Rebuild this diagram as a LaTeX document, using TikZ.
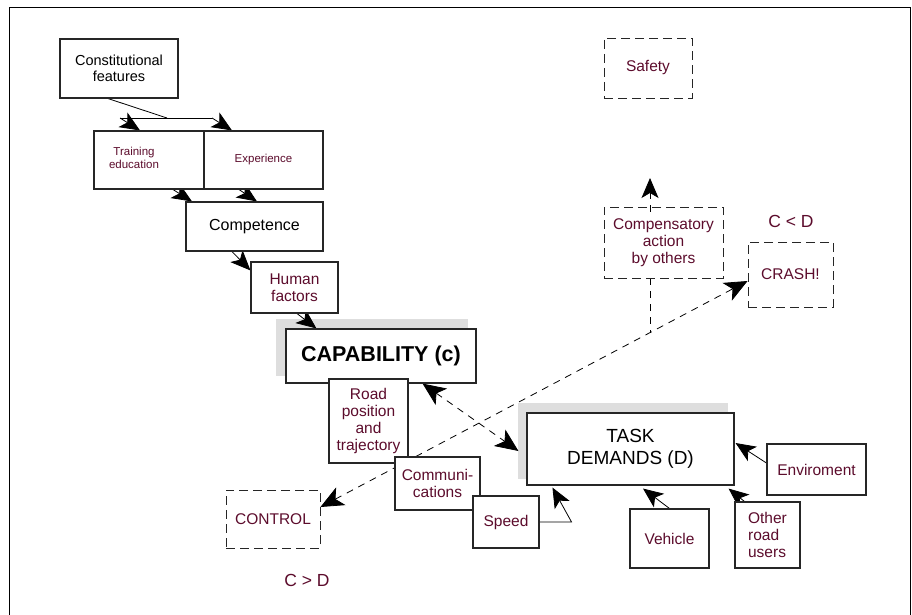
\documentclass[tikz,border=0pt]{standalone}
\usepackage{fontspec}
\setmainfont{Liberation Sans}
\usetikzlibrary{arrows.meta,backgrounds}
\definecolor{wine}{RGB}{92,12,44}
\definecolor{shadowgray}{RGB}{222,222,222}

\begin{document}
\begin{tikzpicture}[x=1pt,y=-1pt,
  box/.style={draw=black!85, line width=1.1pt, fill=white, align=center, inner sep=2pt,
    text=wine, font=\fontsize{15.5}{17}\selectfont},
  dbox/.style={box, fill=none, line width=0.9pt, dash pattern=on 9pt off 5pt},
  small/.style={font=\fontsize{11.5}{13}\selectfont},
  arr/.style={-{Stealth[length=20pt,width=17pt,inset=5pt]}, line width=0.8pt},
  bigarr/.style={{Stealth[length=23pt,width=20pt,inset=6pt]}-{Stealth[length=23pt,width=20pt,inset=6pt]}},
  dline/.style={line width=0.8pt, dash pattern=on 7pt off 6pt}]
  \useasboundingbox (0,0) rectangle (912,615);
  \draw[line width=0.8pt] (9,615) -- (9,7) -- (910,7) -- (910,615);

  % boxes
  \node[box, text=black, font=\fontsize{14.5}{16}\selectfont, minimum width=118pt, minimum height=59pt] (cf) at (119,68.5) {Constitutional\\features};
  \node[box, minimum width=110pt, minimum height=58pt,
    label={[small, text=wine, align=center, xshift=-15pt, yshift=2pt]center:{Training\\education}}] (train) at (149,160) {};
  \node[box, small, minimum width=119pt, minimum height=58pt] (exper) at (263.5,160) {Experience};
  \node[box, text=black, font=\fontsize{16}{18}\selectfont, minimum width=137pt, minimum height=49pt] (comp) at (254.5,226.5) {Competence};
  \node[box, minimum width=87pt, minimum height=51pt] (human) at (294.5,287.5) {Human\\factors};
  \node[box, text=black, font=\bfseries\fontsize{21.5}{24}\selectfont, minimum width=190pt, minimum height=54pt] (capab) at (381,356) {CAPABILITY (c)};
  \node[box, minimum width=79pt, minimum height=84pt] (road) at (368.5,421) {Road\\position\\and\\trajectory};
  \node[box, minimum width=85pt, minimum height=53pt] (commu) at (437.5,483.5) {Communi-\\cations};
  \node[box, minimum width=66pt, minimum height=52pt] (speed) at (506,522) {Speed};
  \node[box, text=black, font=\fontsize{19}{21.5}\selectfont, minimum width=207pt, minimum height=72pt] (task) at (630.5,449) {TASK\\DEMANDS (D)};
  \node[box, minimum width=99pt, minimum height=51pt] (envir) at (816.5,469.5) {Enviroment};
  \node[box, minimum width=79pt, minimum height=59pt] (vehic) at (669.5,538.5) {Vehicle};
  \node[box, align=left, minimum width=65pt, minimum height=66pt] (other) at (767.5,535) {Other\\road\\users};
  \node[dbox, minimum width=94pt, minimum height=58pt] (control) at (273,519) {CONTROL};
  \node[dbox, minimum width=88pt, minimum height=60pt] (safety) at (648,68) {Safety};
  \node[dbox, minimum width=119pt, minimum height=71pt] (compens) at (663.5,242.5) {Compensatory\\action\\by others};
  \node[dbox, minimum width=85pt, minimum height=65pt] (crash) at (790.5,274.5) {CRASH!};
  \node[text=wine, font=\fontsize{17.5}{20}\selectfont] (cgtd) at (307,580) {C > D};
  \node[text=wine, font=\fontsize{17.5}{20}\selectfont] (cltd) at (791,221) {C < D};

  \coordinate (bend) at (167,118);
  \coordinate (forkL) at (120,118);
  \coordinate (forkR) at (212,118);
  \coordinate (jn) at (650,333);
  \coordinate (safetytip) at (650,178);

  \begin{scope}[on background layer]
    % shadows
    \fill[shadowgray] ([shift={(-9pt,9pt)}]capab.north west) rectangle ([shift={(-9pt,8pt)}]capab.south east);
    \fill[shadowgray] ([shift={(-8pt,9pt)}]task.north west) rectangle ([shift={(-7pt,7pt)}]task.south east);
    % connectors
    \draw[line width=0.8pt] ([xshift=-11pt]cf.south) -- (bend);
    \draw[line width=0.8pt] (forkL) -- (forkR);
    \draw[arr] (forkL) -- ([xshift=-9pt]train.north);
    \draw[arr] (forkR) -- ([xshift=-31.5pt]exper.north);
    \draw[arr] ([xshift=24pt]train.south) -- ([xshift=-62.5pt]comp.north);
    \draw[arr] ([xshift=-24.5pt]exper.south) -- ([xshift=2.5pt]comp.north);
    \draw[arr] ([xshift=-22.5pt]comp.south) -- ([yshift=-9pt]human.north west);
    \draw[arr] ([xshift=2.5pt]human.south) -- ([xshift=31pt]capab.north west);
    \draw[dline, bigarr] ([xshift=-54pt]capab.south east) -- ([xshift=-8pt,yshift=-2pt]task.west);
    \draw[dline, bigarr] ([yshift=12pt]control.east) -- ([yshift=-6.5pt]crash.west);
    \draw[dline] ([xshift=-13.5pt]compens.south) -- (jn);
    \draw[dline, arr] ([xshift=-13.5pt,yshift=-5pt]compens.north) -- (safetytip);
    \draw[arr] (speed.east) -- ++(32,0) -- ([xshift=26pt,yshift=-2pt]task.south west);
    \draw[arr] (vehic.north) -- ([xshift=12.5pt,yshift=-3pt]task.south);
    \draw[arr] ([xshift=10pt]other.north west) -- ([xshift=-6pt,yshift=-3pt]task.south east);
    \draw[arr] ([yshift=6.5pt]envir.west) -- ([xshift=1pt,yshift=6pt]task.east);
  \end{scope}
\end{tikzpicture}
\end{document}
